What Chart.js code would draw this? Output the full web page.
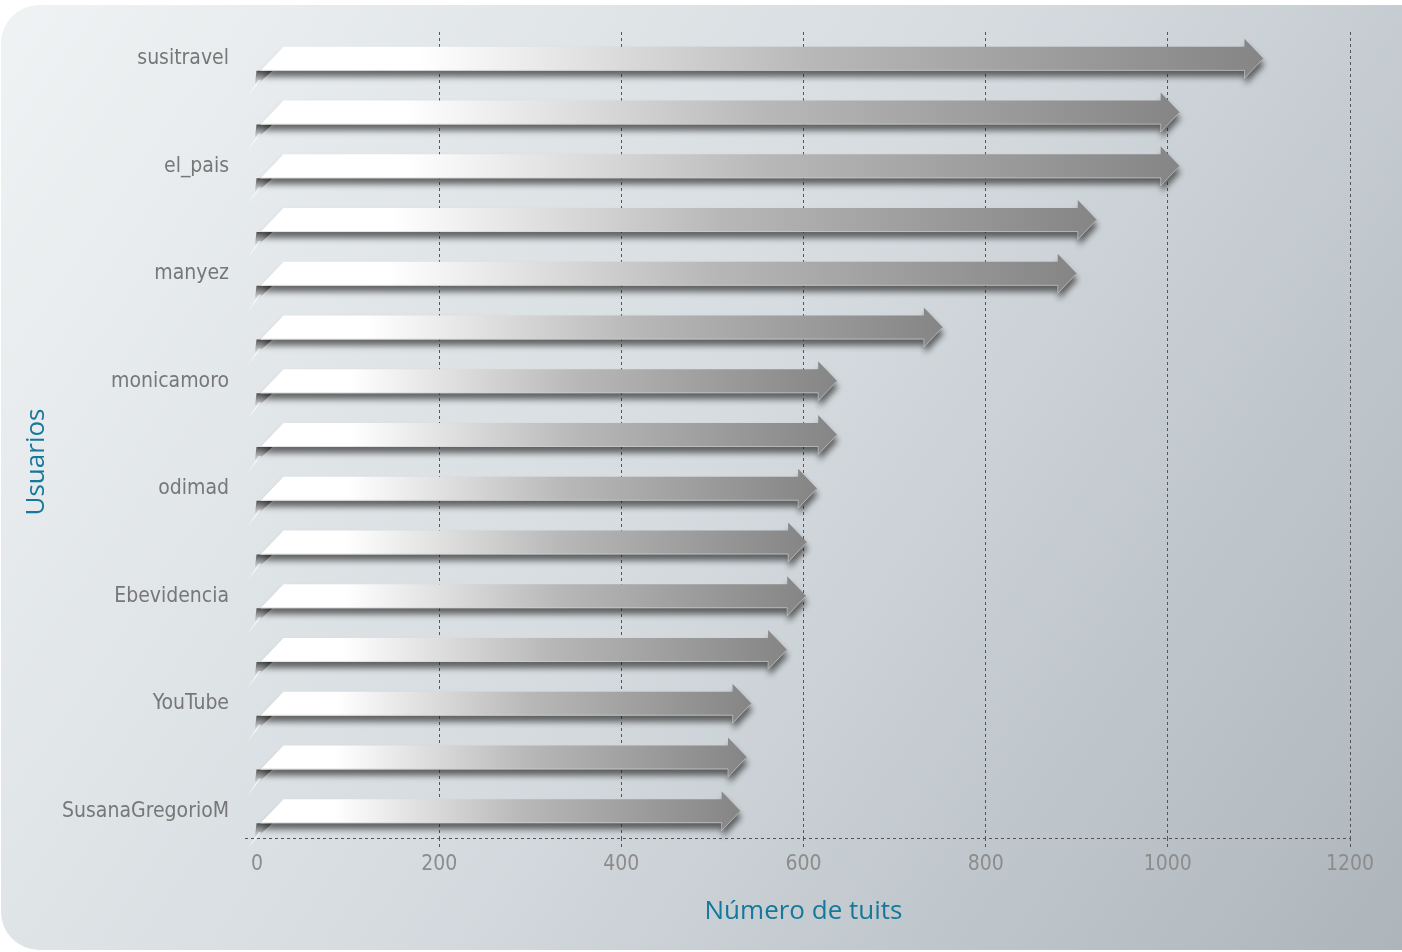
<!DOCTYPE html>
<html lang="es">
<head>
  <meta charset="UTF-8" />
  <title>Usuarios por número de tuits</title>
  <script src="https://cdn.jsdelivr.net/npm/chart.js"></script>
  <style>
    html, body { margin: 0; padding: 0; background: #fff; }
    #wrap { width: 1402px; height: 952px; }
  </style>
</head>
<body>
  <div id="wrap"><canvas id="tuitsChart"></canvas></div>

  <script>
    // usuarios (solo uno de cada dos lleva nombre visible en el original)
    const usuarios = ['susitravel', '', 'el_pais', '', 'manyez', '', 'monicamoro', '',
                      'odimad', '', 'Ebevidencia', '', 'YouTube', '', 'SusanaGregorioM'];
    const tuits = [1105, 1013, 1013, 922, 900, 753, 637, 637, 615, 604, 603, 582, 543, 538, 531];
    const ticksX = [0, 200, 400, 600, 800, 1000, 1200];

    const narrow = "'DejaVu Sans Condensed', 'Liberation Sans Narrow', sans-serif";
    const titleFont = "'Open Sans', sans-serif";
    const titleColor = '#16789a';

    // panel de fondo con degradado
    const fondo = {
      id: 'fondo',
      beforeDraw(chart) {
        const { ctx, width, height } = chart;
        ctx.save();
        ctx.fillStyle = '#fff';
        ctx.fillRect(0, 0, width, height);
        const g = ctx.createLinearGradient(0, 0, width, height);
        g.addColorStop(0, '#f0f3f4');
        g.addColorStop(0.5, '#d5dbdf');
        g.addColorStop(1, '#adb5bb');
        ctx.fillStyle = g;
        ctx.beginPath();
        ctx.roundRect(1, 5, width + 60, height - 7, 38);
        ctx.fill();
        ctx.restore();
      },
      beforeDatasetsDraw(chart) {
        // eje x punteado y título vertical
        const { ctx, chartArea } = chart;
        ctx.save();
        ctx.strokeStyle = '#555';
        ctx.lineWidth = 1;
        ctx.setLineDash([3, 3]);
        ctx.beginPath();
        ctx.moveTo(chartArea.left - 12, chartArea.bottom + 0.5);
        ctx.lineTo(chartArea.right, chartArea.bottom + 0.5);
        ctx.stroke();
        ctx.restore();

        ctx.save();
        ctx.translate(37, 462);
        ctx.rotate(-Math.PI / 2);
        ctx.fillStyle = titleColor;
        ctx.font = "26px " + titleFont;
        ctx.textAlign = 'center';
        ctx.textBaseline = 'middle';
        ctx.fillText('Usuarios', 0, 0);
        ctx.restore();
      }
    };

    // dibuja cada barra como una flecha a partir de los elementos de Chart.js
    const flechas = {
      id: 'flechas',
      afterDatasetsDraw(chart) {
        const ctx = chart.ctx;
        const meta = chart.getDatasetMeta(0);
        meta.data.forEach(bar => {
          const { x, y, base, height } = bar.getProps(['x', 'y', 'base', 'height'], true);
          const half = height / 2, head = 19, wing = 8;
          const top = y - half, bot = y + half;
          const sx = x - head;

          // pliegue oscuro bajo el extremo izquierdo
          ctx.save();
          const gf = ctx.createLinearGradient(0, bot, 0, bot + 14);
          gf.addColorStop(0, '#4a4a4a');
          gf.addColorStop(1, 'rgba(110,110,110,0)');
          ctx.fillStyle = gf;
          ctx.beginPath();
          ctx.moveTo(base - 1, bot);
          ctx.lineTo(base + 15, bot);
          ctx.lineTo(base + 4, bot + 10);
          ctx.lineTo(base - 3, bot + 16);
          ctx.closePath();
          ctx.fill();
          ctx.fillStyle = 'rgba(255,255,255,0.6)';
          ctx.beginPath();
          ctx.moveTo(base + 1, bot + 9);
          ctx.lineTo(base + 4, bot + 9);
          ctx.lineTo(base - 10, bot + 26);
          ctx.closePath();
          ctx.fill();
          ctx.restore();

          // cuerpo de la flecha
          ctx.save();
          ctx.shadowColor = 'rgba(30,30,30,0.65)';
          ctx.shadowBlur = 6;
          ctx.shadowOffsetY = 6;
          ctx.shadowOffsetX = 1;
          ctx.beginPath();
          ctx.moveTo(base + 26, top);
          ctx.lineTo(sx, top);
          ctx.lineTo(sx, top - wing);
          ctx.lineTo(x, y);
          ctx.lineTo(sx, bot + wing);
          ctx.lineTo(sx, bot);
          ctx.lineTo(base + 3, bot);
          ctx.closePath();
          const g = ctx.createLinearGradient(base, 0, x, 0);
          g.addColorStop(0, '#ffffff');
          g.addColorStop(0.16, '#ffffff');
          g.addColorStop(0.55, '#b8b8b8');
          g.addColorStop(1, '#858585');
          ctx.fillStyle = g;
          ctx.fill();
          ctx.restore();

          // borde claro inferior
          ctx.save();
          ctx.strokeStyle = 'rgba(210,210,210,0.6)';
          ctx.lineWidth = 1;
          ctx.beginPath();
          ctx.moveTo(base + 3, bot - 0.5);
          ctx.lineTo(sx, bot - 0.5);
          ctx.lineTo(sx, bot + wing - 0.5);
          ctx.lineTo(x - 0.5, y);
          ctx.stroke();
          ctx.restore();
        });
      }
    };

    const hide0 = c => (c.tick && c.tick.value === 0 ? 'rgba(0,0,0,0)' : '#555');

    new Chart(document.getElementById('tuitsChart'), {
      type: 'bar',
      data: {
        labels: usuarios,
        datasets: [{
          label: 'Número de tuits',
          data: tuits,
          backgroundColor: 'rgba(0,0,0,0)',
          barThickness: 24
        }]
      },
      options: {
        indexAxis: 'y',
        responsive: true,
        maintainAspectRatio: false,
        animation: false,
        layout: { padding: { top: 32, right: 52, left: 0, bottom: 0 } },
        plugins: {
          legend: { display: false },
          tooltip: { enabled: false }
        },
        scales: {
          x: {
            min: 0,
            max: 1200,
            afterBuildTicks: s => { s.ticks = ticksX.map(v => ({ value: v })); },
            afterFit: s => { s.height = 114; s.paddingLeft = 0; s.paddingRight = 0; },
            grid: { color: hide0, tickColor: hide0, tickLength: 10, tickBorderDash: [3, 3] },
            border: { display: false, dash: [3, 3] },
            ticks: {
              color: '#8c8c8c',
              padding: 4,
              font: { family: narrow, size: 21 },
              callback: v => String(v)
            },
            title: {
              display: true,
              text: 'Número de tuits',
              color: titleColor,
              font: { family: titleFont, size: 26 },
              padding: { top: 0, bottom: 25 }
            }
          },
          y: {
            afterFit: s => { s.width = 257; s.paddingTop = 0; s.paddingBottom = 0; },
            grid: { display: false, drawTicks: false },
            border: { display: false },
            ticks: {
              autoSkip: false,
              color: '#777',
              padding: 28,
              font: { family: narrow, size: 21 }
            }
          }
        }
      },
      plugins: [fondo, flechas]
    });
  </script>
</body>
</html>
